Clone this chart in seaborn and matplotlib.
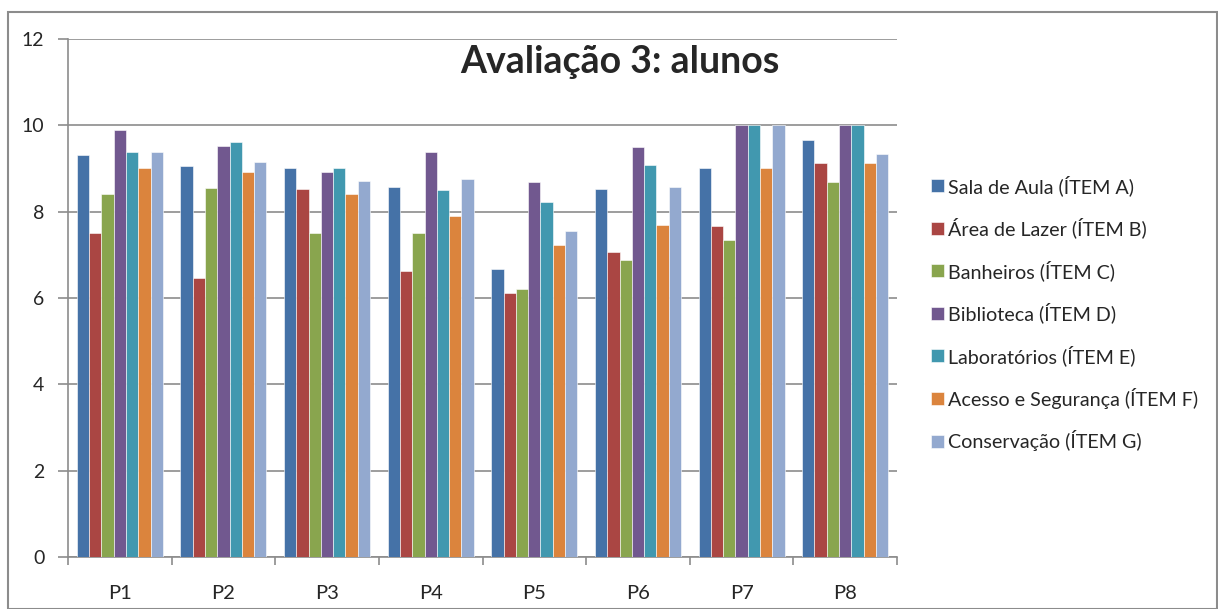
import pandas as pd
import numpy as np
import matplotlib
matplotlib.use('Agg')
import matplotlib.pyplot as plt
import seaborn as sns
from matplotlib.patches import Rectangle

# dados
grupos = ['P1', 'P2', 'P3', 'P4', 'P5', 'P6', 'P7', 'P8']
itens = ['Sala de Aula (ÍTEM A)', 'Área de Lazer (ÍTEM B)', 'Banheiros (ÍTEM C)',
         'Biblioteca (ÍTEM D)', 'Laboratórios (ÍTEM E)', 'Acesso e Segurança (ÍTEM F)',
         'Conservação (ÍTEM G)']
sala = [9.31, 9.06, 9.01, 8.57, 6.67, 8.52, 9.01, 9.66]
lazer = [7.50, 6.46, 8.52, 6.62, 6.12, 7.07, 7.67, 9.13]
banheiros = [8.41, 8.55, 7.50, 7.50, 6.21, 6.88, 7.34, 8.69]
biblioteca = [9.90, 9.52, 8.92, 9.38, 8.69, 9.50, 10.0, 10.0]
laboratorios = [9.39, 9.61, 9.01, 8.50, 8.22, 9.08, 10.0, 10.0]
acesso = [9.02, 8.92, 8.41, 7.90, 7.23, 7.69, 9.01, 9.13]
conservacao = [9.39, 9.15, 8.71, 8.76, 7.55, 8.57, 10.0, 9.34]

cores = ['#4572A7', '#AA4643', '#89A54E', '#71588F', '#4198AF', '#DB843D', '#93A9CF']

series = [sala, lazer, banheiros, biblioteca, laboratorios, acesso, conservacao]
linhas = []
for item, valores in zip(itens, series):
    for g, v in zip(grupos, valores):
        linhas.append({'grupo': g, 'item': item, 'nota': v})
df = pd.DataFrame(linhas)

sns.set_style('white')
plt.rcParams['font.family'] = ['Lato', 'DejaVu Sans']

fig = plt.figure(figsize=(12.18, 6.09), dpi=100)
ax = fig.add_axes([68 / 1218, 1 - 557 / 609, (897 - 68) / 1218, (557 - 39) / 609])

sns.barplot(data=df, x='grupo', y='nota', hue='item', hue_order=itens,
            order=grupos, palette=cores, width=0.83, saturation=1,
            edgecolor='white', linewidth=0.4, ax=ax, zorder=3)

ax.set_ylim(0, 12)
ax.set_xlim(-0.5, 7.5)
ax.set_yticks(range(0, 13, 2))
ax.yaxis.grid(True, color='#8c8c8c', linewidth=1.2, zorder=0)
ax.set_axisbelow(True)
ax.set_xlabel('')
ax.set_ylabel('')

for s in ['top', 'right']:
    ax.spines[s].set_visible(False)
for s in ['left', 'bottom']:
    ax.spines[s].set_color('#8c8c8c')
    ax.spines[s].set_linewidth(1.2)

ax.tick_params(axis='y', which='major', length=7, width=1.2, color='#8c8c8c',
               labelsize=14, pad=10, left=True)
ax.tick_params(axis='x', which='major', length=0, labelsize=14.5, pad=20)
ax.set_xticks(np.arange(-0.5, 8, 1), minor=True)
ax.tick_params(axis='x', which='minor', length=6, width=1.2, color='#8c8c8c', bottom=True)

ax.text(0.666, 0.955, 'Avaliação 3: alunos', transform=ax.transAxes,
        ha='center', va='center', fontsize=27, fontweight='bold')

handles, labels = ax.get_legend_handles_labels()
ax.legend(handles, labels, loc='center left', bbox_to_anchor=(1.041, 0.471),
          frameon=False, fontsize=14.2, handlelength=0.65, handleheight=0.65,
          handletextpad=0.2, labelspacing=1.1, borderaxespad=0, borderpad=0)

fig.patches.append(Rectangle((8 / 1218, 0), 1 - 8 / 1218 - 1 / 1218, 1 - 12 / 609,
                             transform=fig.transFigure, fill=False,
                             edgecolor='#8c8c8c', linewidth=1.5))

fig.savefig('out.png', dpi=100)
